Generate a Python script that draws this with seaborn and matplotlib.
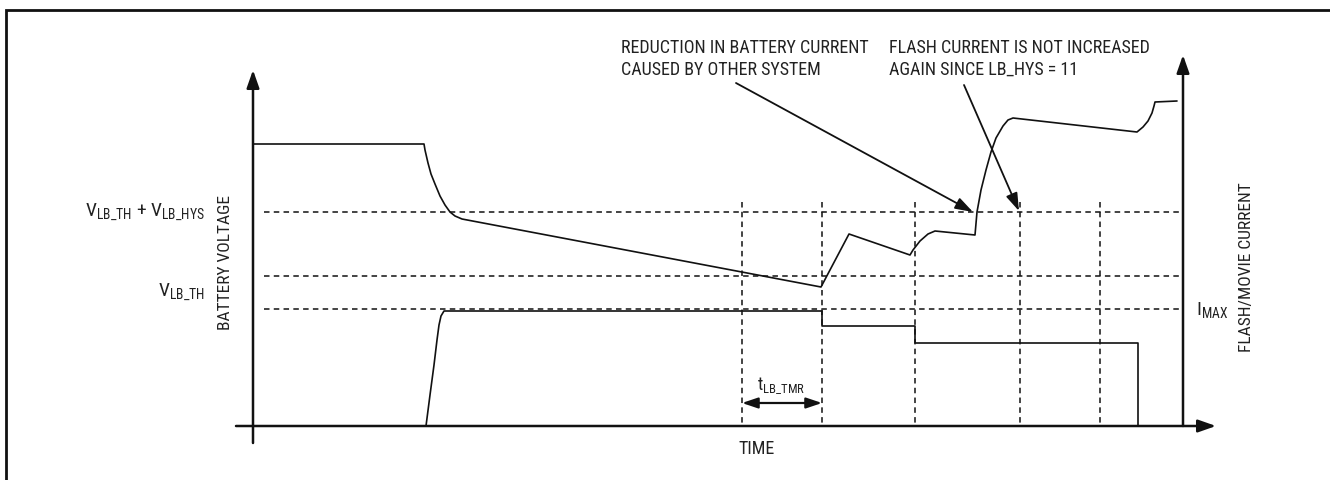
import matplotlib
matplotlib.use("Agg")
import matplotlib.pyplot as plt
from matplotlib import font_manager as fm
import seaborn as sns
import pandas as pd

# Timing diagram, drawn in a 1330 x 480 canvas coordinate system (y grows downward)
battery_t = [253, 424, 425, 428, 431, 435, 440, 445, 450, 455, 462,
             821, 849, 910, 913, 920, 928, 935, 975,
             977, 981, 986, 991, 996, 1003, 1008, 1013,
             1137, 1143, 1148, 1152, 1154, 1155, 1177]
battery_v = [144, 144, 150, 163, 174, 184, 196, 205, 212, 216, 219,
             287, 234, 255, 250, 241, 234, 231, 235,
             212, 190, 170, 152, 138, 126, 120, 118,
             132, 127, 121, 113, 106, 102, 101]

flash_t = [253, 426, 430, 434, 437, 439, 441, 444, 822, 822, 915, 915, 1138, 1138, 1183]
flash_i = [426, 426, 395, 365, 340, 325, 316, 311, 311, 326, 326, 343, 343, 426, 426]

threshold_levels = [212, 276, 309]      # VLB_TH + VLB_HYS, intermediate, VLB_TH / IMAX
timer_marks = [742, 822, 915, 1020, 1100]

sns.set_style("white")

# narrow sans face for all labels
available = {f.name for f in fm.fontManager.ttflist}
FONT = "DejaVu Sans"
for cand in ["Nimbus Sans Narrow", "Roboto Condensed", "Liberation Sans Narrow",
             "Archivo Narrow", "Fira Sans Condensed", "IBM Plex Sans Condensed",
             "Barlow Semi Condensed"]:
    if cand in available:
        FONT = cand
        break
plt.rcParams["font.family"] = [FONT, "DejaVu Sans"]
plt.rcParams["mathtext.fontset"] = "custom"
plt.rcParams["mathtext.rm"] = FONT
plt.rcParams["mathtext.it"] = FONT
plt.rcParams["mathtext.bf"] = FONT
plt.rcParams["mathtext.default"] = "rm"

fig = plt.figure(figsize=(13.3, 4.8), dpi=100)
ax = fig.add_axes([0, 0, 1, 1])

INK = "#111111"
TXT = "#222222"
LW = 1.2

# signals
df_v = pd.DataFrame({"t": battery_t, "v": battery_v})
df_i = pd.DataFrame({"t": flash_t, "i": flash_i})
sns.lineplot(data=df_v, x="t", y="v", sort=False, estimator=None, color=INK, lw=LW, ax=ax)
sns.lineplot(data=df_i, x="t", y="i", sort=False, estimator=None, color=INK, lw=LW, ax=ax)
ax.set_xlim(0, 1330)
ax.set_ylim(480, 0)
ax.axis("off")

# outer frame
ax.plot([6, 6, 1335], [485, 10, 10], color=INK, lw=2.0, solid_joinstyle="miter")

# threshold and timer guide lines
dash = (0, (3.6, 2.8))
ax.hlines(threshold_levels, 264, 1180, colors=INK, lw=1.1, linestyles=[dash])
ax.vlines(timer_marks, 202, 426, colors=INK, lw=1.1, linestyles=[dash])


def arrow(x0, y0, x1, y1, style, lw=1.6):
    ax.annotate("", xy=(x1, y1), xytext=(x0, y0),
                arrowprops=dict(arrowstyle=style, color=INK, lw=lw,
                                shrinkA=0, shrinkB=0, mutation_scale=1))


# axes with arrowheads
arrow(253, 443, 253, 70, "-|>,head_length=10.8,head_width=3.8", lw=1.8)
arrow(1183, 426, 1183, 55, "-|>,head_length=10.8,head_width=3.8", lw=1.8)
arrow(236, 426, 1216, 426, "-|>,head_length=10.8,head_width=3.8", lw=1.8)

# timer interval
arrow(742, 403, 822, 403, "<|-|>,head_length=9.5,head_width=3.2", lw=1.6)
ax.text(781, 386, r"t$_{LB\_TMR}$", ha="center", va="center", fontsize=13, color=TXT)

# callouts
arrow(736, 83, 973, 212, "-|>,head_length=10.8,head_width=3.6", lw=1.3)
arrow(964, 85, 1019, 211, "-|>,head_length=10.8,head_width=3.6", lw=1.3)
ax.text(621, 59, "REDUCTION IN BATTERY CURRENT\nCAUSED BY OTHER SYSTEM",
        ha="left", va="center", fontsize=13, color=TXT, linespacing=1.3)
ax.text(889, 59, "FLASH CURRENT IS NOT INCREASED\nAGAIN SINCE LB_HYS = 11",
        ha="left", va="center", fontsize=13, color=TXT, linespacing=1.3)

# level labels
ax.text(205, 212, r"V$_{LB\_TH}$ + V$_{LB\_HYS}$", ha="right", va="center",
        fontsize=14, color=TXT)
ax.text(205, 292, r"V$_{LB\_TH}$", ha="right", va="center", fontsize=14, color=TXT)
ax.text(1196, 310, r"I$_{MAX}$", ha="left", va="center", fontsize=14, color=TXT)

# axis titles
ax.text(225, 262, "BATTERY VOLTAGE", ha="center", va="center", rotation=90,
        fontsize=12.5, color=TXT)
ax.text(1247, 267, "FLASH/MOVIE CURRENT", ha="center", va="center", rotation=90,
        fontsize=12.5, color=TXT)
ax.text(757, 449, "TIME", ha="center", va="center", fontsize=13, color=TXT)

fig.savefig("out.png", dpi=100)
